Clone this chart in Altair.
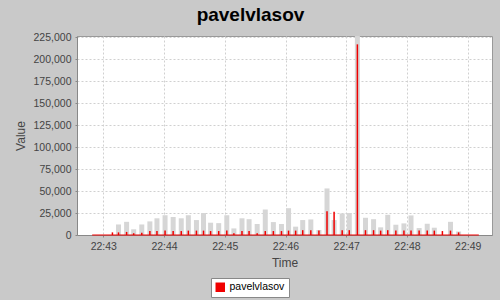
import altair as alt
import pandas as pd

# sample times (HH:MM:SS)
times = ["22:43:09", "22:43:15", "22:43:23", "22:43:30", "22:43:38", "22:43:46", "22:43:53",
         "22:44:01", "22:44:09", "22:44:17", "22:44:24", "22:44:32", "22:44:39", "22:44:46", "22:44:54",
         "22:45:02", "22:45:09", "22:45:17", "22:45:24", "22:45:32", "22:45:40", "22:45:48", "22:45:56",
         "22:46:03", "22:46:10", "22:46:17", "22:46:25", "22:46:33", "22:46:41", "22:46:48", "22:46:56",
         "22:47:03", "22:47:11", "22:47:19", "22:47:27", "22:47:34", "22:47:41", "22:47:49", "22:47:57",
         "22:48:04", "22:48:12", "22:48:20", "22:48:27", "22:48:35", "22:48:43", "22:48:51"]
# light grey background bars
grey_values = [0, 12000, 15000, 6500, 12000, 15500, 19000,
               22500, 20500, 19000, 22500, 17000, 25000, 14000, 13500,
               22500, 7500, 19000, 18000, 12500, 29000, 14700, 12500,
               30500, 9500, 17000, 17700, 5700, 53000, 17000, 24500,
               25000, 240000, 19600, 18000, 8700, 23000, 11700, 13200,
               22300, 7900, 12800, 8300, 0, 15000, 4000]
# red series "pavelvlasov"
red_values = [3000, 3000, 3500, 2000, 2500, 4500, 4500,
              5000, 4500, 4500, 5000, 5000, 5000, 4500, 4500,
              5000, 2000, 4500, 4500, 2000, 4500, 4500, 4500,
              5000, 5000, 5500, 5500, 5000, 27000, 26500, 5500,
              5500, 217000, 5500, 5500, 5000, 5500, 5000, 5000,
              5000, 5000, 5000, 5000, 4500, 5000, 3000]
series_start = "22:42:49"
series_end = "22:49:11"
x_domain = ["22:42:34", "22:49:24"]
x_ticks = ["22:43:00", "22:44:00", "22:45:00", "22:46:00", "22:47:00", "22:48:00", "22:49:00"]
y_ticks = [0, 25000, 50000, 75000, 100000, 125000, 150000, 175000, 200000, 225000]


def dt(s):
    h, m, sec = (int(v) for v in s.split(":"))
    return alt.DateTime(year=2024, month=1, date=1, hours=h, minutes=m, seconds=sec)


DAY = "2024-01-01T"
df = pd.DataFrame({
    "time": [DAY + t for t in times],
    "grey": grey_values,
    "value": red_values,
    "series": ["pavelvlasov"] * len(times),
})
span = pd.DataFrame({"start": [DAY + series_start], "end": [DAY + series_end], "zero": [0]})

FONT = "Liberation Sans"
RED = "#f00000"

xscale = alt.Scale(domain=[dt(v) for v in x_domain], padding=0)
yscale = alt.Scale(domain=[0, 226500], nice=False, padding=0)

xaxis = alt.Axis(title="Time", format="%H:%M", values=[dt(v) for v in x_ticks],
                 titleY=27, titleBaseline="middle", labelOverlap=False)
yaxis = alt.Axis(title="Value", values=y_ticks, format=",d", titleX=-57, titleY=99.5,
                 titleAlign="center", titleBaseline="middle", labelOverlap=False)

grey = alt.Chart(df).mark_bar(color="#d6d6d6", size=5, clip=True).encode(
    x=alt.X("time:T", scale=xscale, axis=xaxis),
    y=alt.Y("grey:Q", scale=yscale, axis=yaxis),
)

base = alt.Chart(span).mark_rule(color=RED, strokeWidth=1).encode(
    x=alt.X("start:T", scale=xscale, axis=xaxis), x2="end:T",
    y=alt.Y("zero:Q", scale=yscale, axis=yaxis),
)

red = alt.Chart(df).mark_bar(size=1.5, clip=True).encode(
    x=alt.X("time:T", scale=xscale, axis=xaxis),
    y=alt.Y("value:Q", scale=yscale, axis=yaxis),
    color=alt.Color("series:N", scale=alt.Scale(range=[RED]),
                    legend=alt.Legend(orient="none", legendX=134, legendY=242, title=None,
                                      symbolType="square", symbolSize=90, symbolStrokeWidth=0,
                                      labelFontSize=10.5, labelFont=FONT, labelColor="#000000",
                                      strokeColor="#888888", fillColor="#ffffff", padding=4)),
)

chart = alt.layer(grey, base, red).properties(
    width=415, height=199,
    title=alt.TitleParams("pavelvlasov", font=FONT, fontSize=19, fontWeight="bold",
                          anchor="middle", dx=-34, offset=7, color="#000000"),
    background="#c9c9c9",
    padding={"left": 77, "top": 36, "right": 8, "bottom": 65},
    autosize=alt.AutoSizeParams(type="none"),
).configure_view(fill="#ffffff", stroke="#999999", strokeWidth=1).configure_axis(
    labelFont=FONT, labelFontSize=10.5, labelColor="#444444",
    titleFont=FONT, titleFontSize=12, titleColor="#444444", titleFontWeight="normal",
    domainColor="#888888", tickColor="#888888", tickSize=2, labelPadding=4,
    gridColor="#d0d0d0", gridDash=[2, 2], gridWidth=1,
)

chart.save("out.html", embed_options={"renderer": "svg", "actions": False})
